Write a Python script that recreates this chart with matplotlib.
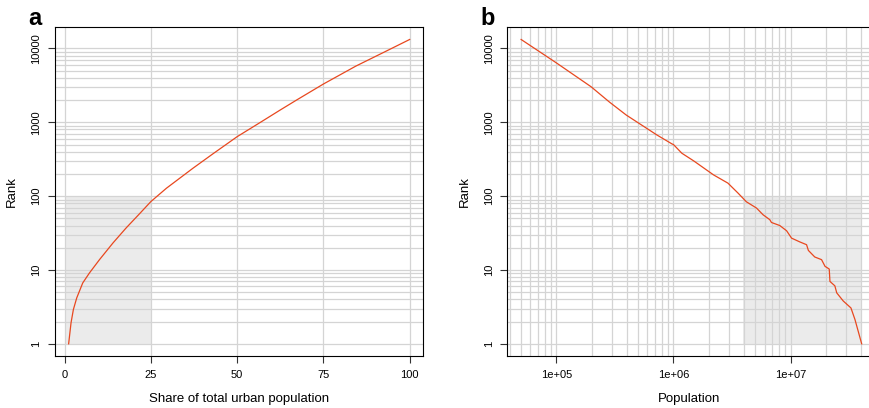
import numpy as np
import matplotlib
matplotlib.use("Agg")
import matplotlib.pyplot as plt

plt.rcParams['font.family'] = ['Liberation Sans', 'DejaVu Sans']

# panel a: cumulative share of urban population (%) vs rank
share_a = [1.16, 1.85, 2.53, 3.50, 5.24, 7.18, 10.1, 14.0, 17.8, 21.7,
           25.0, 29.5, 37.2, 43.0, 50.0, 56.6, 62.4, 67.2, 75.0, 84.4,
           92.2, 100.0]
rank_a = [1, 1.92, 2.91, 4.18, 6.67, 9.1, 13.8, 23.2, 37, 57.7,
          84.5, 128, 239, 375, 639, 990, 1460, 2000, 3300, 5770,
          8730, 13240]

# panel b: city population vs rank
pop_b = [50000, 100000, 198000, 284000, 395000, 724000, 973000, 1000000,
         1180000, 1490000, 2200000, 2920000, 3560000, 4190000, 5120000,
         5820000, 6650000, 6870000, 8090000, 9250000, 10200000, 12000000,
         13700000, 14200000, 16100000, 18400000, 19700000, 21400000,
         21700000, 23900000, 24800000, 28200000, 32800000, 35500000,
         40500000]
rank_b = [13240, 6380, 3030, 1880, 1255, 672, 509, 500, 381, 300, 194,
          150, 110, 84, 69, 56, 48, 44, 40, 34, 27, 24, 22, 18.4, 15, 13.8,
          11.2, 10.3, 7, 6.1, 4.9, 3.8, 3.06, 2.13, 1]

shade_a_x = [0, 25]
shade_b_x = [3930000, 40500000]
shade_y = [1, 100]

yticks = [1, 10, 100, 1000, 10000]
xticks_a = [0, 25, 50, 75, 100]
xticks_b = [1e5, 1e6, 1e7]
xticklabels_b = ["1e+05", "1e+06", "1e+07"]

LINE = '#e8481f'
GRID = '#d4d4d4'
SHADE = '#ebebeb'

W, H = 870, 408


def r_lim(lo, hi, log=False):
    # R-style 4% range extension
    if log:
        lo, hi = np.log10(lo), np.log10(hi)
        d = (hi - lo) * 0.04
        return 10 ** (lo - d), 10 ** (hi + d)
    d = (hi - lo) * 0.04
    return lo - d, hi + d


def minor_log(lo, hi):
    out = []
    for k in range(-1, 9):
        for m in range(1, 10):
            v = m * 10.0 ** k
            if lo <= v <= hi:
                out.append(v)
    return out


def style(ax):
    for s in ax.spines.values():
        s.set_color('black')
        s.set_linewidth(0.8)
    ax.tick_params(direction='out', length=5, width=0.8, labelsize=8,
                   color='#333333', pad=5)
    ax.set_yscale('log')
    ax.set_yticks(yticks)
    ax.set_yticklabels([str(v) for v in yticks], rotation=90, va='center')
    ax.minorticks_off()
    ax.set_ylabel("Rank", fontsize=9.5)
    ax.yaxis.set_label_coords(-37 / 368.0, 0.5)


fig = plt.figure(figsize=(W / 100, H / 100), dpi=100)
ax1 = fig.add_axes([55 / W, 52 / H, 368.3 / W, 328.7 / H])
ax2 = fig.add_axes([507.5 / W, 52 / H, 367.8 / W, 328.7 / H])

ylim = r_lim(min(rank_a), max(rank_a), log=True)

# panel a
style(ax1)
ax1.set_xlim(*r_lim(min(share_a), max(share_a)))
ax1.set_ylim(*ylim)
ax1.fill_between(shade_a_x, shade_y[0], shade_y[1], color=SHADE,
                 lw=0, zorder=0)
for v in minor_log(1, 10000):
    ax1.axhline(v, color=GRID, lw=0.9, zorder=1)
for v in xticks_a:
    ax1.axvline(v, color=GRID, lw=0.9, zorder=1)
ax1.plot(share_a, rank_a, color=LINE, lw=0.9, zorder=3)
ax1.set_xticks(xticks_a)
ax1.set_xticklabels([str(v) for v in xticks_a])
ax1.set_xlabel("Share of total urban population", fontsize=9.5)
ax1.xaxis.set_label_coords(0.5, -(399 - 356) / 328.7)
ax1.xaxis.label.set_va('center')
fig.text(28 / W, 1 - 25 / H, "a", fontsize=17, fontweight='bold')

# panel b
style(ax2)
ax2.set_xscale('log')
ax2.set_xlim(*r_lim(min(pop_b), max(pop_b), log=True))
ax2.set_ylim(*ylim)
ax2.fill_between(shade_b_x, shade_y[0], shade_y[1], color=SHADE,
                 lw=0, zorder=0)
for v in minor_log(1, 10000):
    ax2.axhline(v, color=GRID, lw=0.9, zorder=1)
for v in minor_log(min(pop_b) * 0.7, max(pop_b) * 1.2):
    ax2.axvline(v, color=GRID, lw=0.9, zorder=1)
ax2.plot(pop_b, rank_b, color=LINE, lw=0.9, zorder=3)
ax2.set_xticks(xticks_b)
ax2.set_xticklabels(xticklabels_b)
ax2.minorticks_off()
ax2.set_xlabel("Population", fontsize=9.5)
ax2.xaxis.set_label_coords(0.5 * 362.5 / 367.8, -(399 - 356) / 328.7)
ax2.xaxis.label.set_va('center')
fig.text(480 / W, 1 - 25 / H, "b", fontsize=17, fontweight='bold')

fig.savefig("out.png", dpi=100)
